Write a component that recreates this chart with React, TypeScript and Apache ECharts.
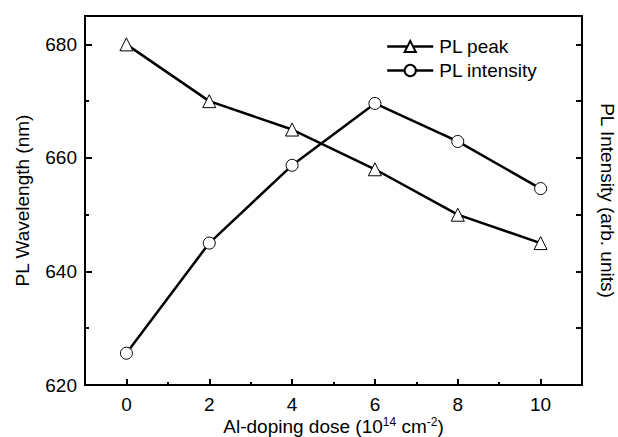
import React, { useEffect, useRef } from "react";
import * as echarts from "echarts";

const doses = [0, 2, 4, 6, 8, 10];
const plPeak = [680, 670, 665, 658, 650, 645];
const plIntensity = [5.6, 25.0, 38.7, 49.6, 42.9, 34.6];
const xMajorTicks = [0, 2, 4, 6, 8, 10];
const xMinorTicks = [1, 3, 5, 7, 9];
const yLabels = [620, 640, 660, 680];

const FONT = "'Liberation Sans', Arial, Helvetica, sans-serif";
const FS = 19;

export default function App() {
  const ref = useRef<HTMLDivElement>(null);
  useEffect(() => {
    if (!ref.current) return;
    const chart = echarts.init(ref.current, undefined, { renderer: "svg" });
    const lineStyle = { color: "#000", width: 2.5 };
    chart.setOption({
      animation: false,
      backgroundColor: "#fff",
      textStyle: { fontFamily: FONT, color: "#000" },
      grid: {
        left: 85,
        right: 36,
        top: 16,
        bottom: 52,
        show: true,
        borderColor: "#000",
        borderWidth: 2,
        backgroundColor: "transparent",
        containLabel: false,
        outerBoundsMode: "none",
      },
      legend: {
        left: 381,
        top: 32,
        orient: "vertical",
        itemWidth: 46,
        itemHeight: 14,
        itemGap: 5,
        lineStyle: { width: 2.5, color: "#000" },
        textStyle: { fontFamily: FONT, fontSize: FS, color: "#000", padding: [0, 0, 0, 1] },
        data: ["PL peak", "PL intensity"],
      },
      xAxis: [
        {
          type: "value",
          min: -1,
          max: 11,
          position: "bottom",
          name: "Al-doping dose (10{sup|14} cm{sup|-2})",
          nameLocation: "middle",
          nameGap: 31,
          nameMoveOverlap: false,
          nameTextStyle: {
            fontFamily: FONT,
            fontSize: FS,
            lineHeight: 20,
            color: "#000",
            rich: {
              sup: { fontSize: 12, lineHeight: 20, verticalAlign: "top", fontFamily: FONT, color: "#000" },
            },
          },
          axisLine: { show: true, onZero: false, lineStyle: { color: "#000", width: 2 } },
          axisTick: {
            show: true,
            inside: true,
            length: 6,
            customValues: xMajorTicks,
            lineStyle: { color: "#000", width: 2 },
          },
          axisLabel: {
            customValues: xMajorTicks,
            fontFamily: FONT,
            fontSize: FS,
            color: "#000",
            margin: 10,
          },
          splitLine: { show: false },
        },
        {
          type: "value",
          min: -1,
          max: 11,
          position: "bottom",
          axisLine: { show: false, onZero: false },
          axisTick: {
            show: true,
            inside: true,
            length: 3,
            customValues: xMinorTicks,
            lineStyle: { color: "#000", width: 2 },
          },
          axisLabel: { show: false },
          splitLine: { show: false },
        },
      ],
      yAxis: [
        {
          type: "value",
          min: 620,
          max: 685,
          interval: 20,
          position: "left",
          name: "PL Wavelength (nm)",
          nameLocation: "middle",
          nameGap: 53,
          nameTextStyle: { fontFamily: FONT, fontSize: FS, color: "#000" },
          axisLine: { show: true, onZero: false, lineStyle: { color: "#000", width: 2 } },
          axisTick: {
            show: true,
            inside: true,
            length: 7,
            customValues: yLabels,
            lineStyle: { color: "#000", width: 2 },
          },
          minorTick: {
            show: true,
            splitNumber: 2,
            length: 4,
            lineStyle: { color: "#000", width: 2 },
          },
          axisLabel: {
            customValues: yLabels,
            fontFamily: FONT,
            fontSize: FS,
            color: "#000",
            margin: 8,
          },
          splitLine: { show: false },
          minorSplitLine: { show: false },
        },
        {
          type: "value",
          min: 0,
          max: 65,
          interval: 10,
          position: "right",
          name: "PL Intensity (arb. units)",
          nameLocation: "middle",
          nameRotate: -90,
          nameGap: 16,
          nameTextStyle: { fontFamily: FONT, fontSize: FS, color: "#000" },
          axisLine: { show: true, onZero: false, lineStyle: { color: "#000", width: 2 } },
          axisTick: {
            show: true,
            inside: true,
            length: 6,
            lineStyle: { color: "#000", width: 2 },
          },
          axisLabel: { show: false },
          splitLine: { show: false },
        },
      ],
      series: [
        {
          name: "PL peak",
          type: "line",
          xAxisIndex: 0,
          yAxisIndex: 0,
          data: doses.map((d, i) => [d, plPeak[i]]),
          symbol: "triangle",
          symbolSize: 13,
          showAllSymbol: true,
          lineStyle,
          itemStyle: { color: "#fff", borderColor: "#000", borderWidth: 1 },
        },
        {
          name: "PL intensity",
          type: "line",
          xAxisIndex: 0,
          yAxisIndex: 1,
          data: doses.map((d, i) => [d, plIntensity[i]]),
          symbol: "circle",
          symbolSize: 12,
          showAllSymbol: true,
          lineStyle,
          itemStyle: { color: "#fff", borderColor: "#000", borderWidth: 1 },
        },
      ],
    });
    return () => chart.dispose();
  }, []);
  return (
    <div
      ref={ref}
      style={{ position: "fixed", left: 0, top: 0, width: 618, height: 437, background: "#fff" }}
    />
  );
}
